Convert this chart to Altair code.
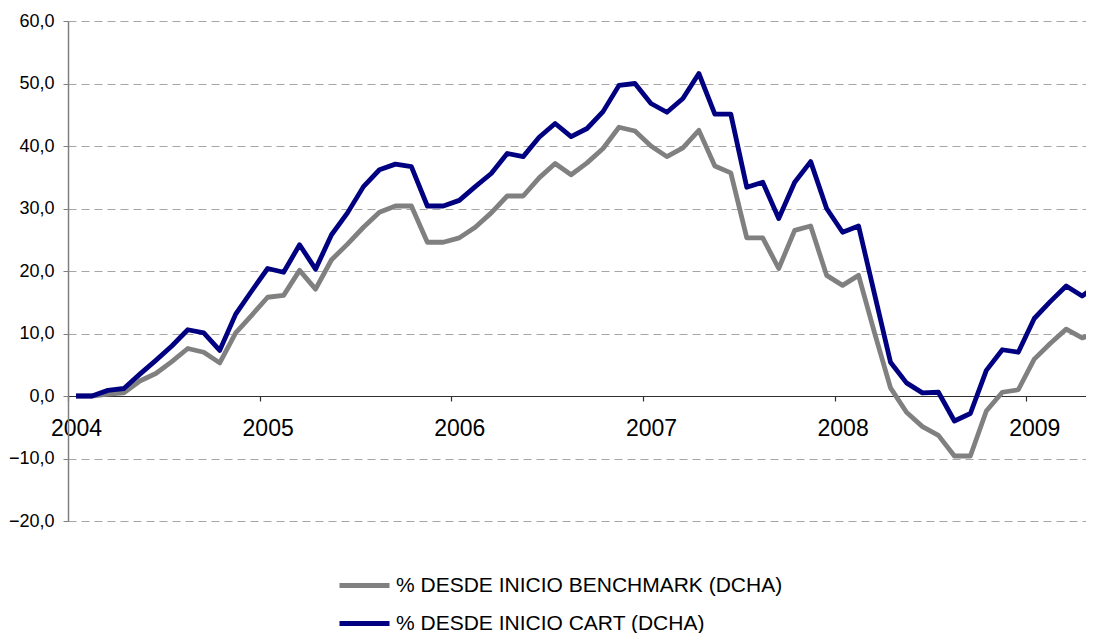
import altair as alt
import pandas as pd

# Monthly series, Jan 2004 .. May 2009 (month index 0..64)
series_names = ["% DESDE INICIO BENCHMARK (DCHA)", "% DESDE INICIO CART (DCHA)"]
series_colors = ["#808080", "#000080"]

benchmark = [0.0, 0.0, 0.3, 0.5, 2.4, 3.6, 5.5, 7.6, 7.0, 5.3, 10.1, 12.9,
             15.8, 16.1, 20.1, 17.1, 21.8, 24.3, 27.0, 29.4, 30.4, 30.4, 24.6, 24.6,
             25.3, 27.0, 29.3, 32.0, 32.0, 34.9, 37.2, 35.4, 37.3, 39.6, 43.0, 42.4,
             40.0, 38.3, 39.7, 42.5, 36.8, 35.7, 25.3, 25.3, 20.4, 26.5, 27.2, 19.3,
             17.7, 19.3, 10.1, 1.3, -2.6, -4.9, -6.3, -9.6, -9.6, -2.4, 0.6, 1.0,
             5.9, 8.4, 10.7, 9.3, 10.1]

cart = [0.0, 0.0, 0.9, 1.2, 3.5, 5.7, 8.0, 10.6, 10.1, 7.3, 13.1, 16.8,
        20.4, 19.8, 24.2, 20.3, 25.8, 29.3, 33.5, 36.2, 37.1, 36.7, 30.4, 30.4,
        31.3, 33.5, 35.6, 38.8, 38.3, 41.4, 43.6, 41.5, 42.8, 45.5, 49.7, 50.0,
        46.8, 45.4, 47.6, 51.6, 45.1, 45.1, 33.4, 34.2, 28.4, 34.2, 37.5, 30.0,
        26.2, 27.2, 16.3, 5.4, 2.1, 0.5, 0.6, -4.0, -2.8, 4.1, 7.4, 7.0,
        12.4, 15.1, 17.6, 16.0, 17.8]

year_labels = [2004, 2005, 2006, 2007, 2008, 2009]
y_ticks = [-20, -10, 0, 10, 20, 30, 40, 50, 60]

rows = []
for name, vals in zip(series_names, [benchmark, cart]):
    for i, v in enumerate(vals):
        rows.append({"mes": i, "valor": v, "serie": name})
df = pd.DataFrame(rows)

FONT = "Liberation Sans"
year_bounds = [12 * k - 0.5 for k in range(len(year_labels))]

chart = alt.Chart(df).mark_line(strokeWidth=4.8, clip=True, strokeJoin="round").encode(
    x=alt.X("mes:Q",
            scale=alt.Scale(domain=[-0.5, 63.24], nice=False, zero=False),
            axis=alt.Axis(values=year_bounds, title=None, grid=False,
                          offset=-125, orient="bottom",
                          domainColor="#303030", domainWidth=1.2,
                          tickColor="#303030", tickSize=5, tickWidth=1.2,
                          labelExpr="2004 + (datum.value + 0.5) / 12",
                          labelOffset=8, labelFlush=False, labelOverlap=False,
                          labelFont=FONT, labelFontSize=23, labelColor="#000000",
                          labelPadding=16)),
    y=alt.Y("valor:Q",
            scale=alt.Scale(domain=[-20, 60], nice=False, zero=False),
            axis=alt.Axis(values=y_ticks, title=None, grid=True,
                          gridColor="#a6a6a6", gridDash=[8, 5], gridWidth=1,
                          domainColor="#7f7f7f", domainWidth=1.5,
                          tickColor="#7f7f7f", tickSize=5,
                          labelExpr="replace(format(datum.value, '.1f'), '.', ',')",
                          labelFont=FONT, labelFontSize=18, labelColor="#000000",
                          labelPadding=9)),
    color=alt.Color("serie:N",
                    scale=alt.Scale(domain=series_names, range=series_colors),
                    legend=alt.Legend(title=None, orient="none",
                                      legendX=269, legendY=537,
                                      direction="vertical",
                                      symbolType="stroke", symbolSize=2500,
                                      symbolStrokeWidth=5,
                                      labelFont=FONT, labelFontSize=21,
                                      labelColor="#000000", labelLimit=0,
                                      labelOffset=4, rowPadding=-16, padding=0)),
    order=alt.Order("mes:Q"),
).properties(
    width=1018, height=500,
    autosize=alt.AutoSizeParams(type="none"),
    padding={"left": 60, "top": 13, "right": 0, "bottom": 115},
).configure_view(stroke=None)

chart.save("out.html", embed_options={"renderer": "svg", "actions": False})
